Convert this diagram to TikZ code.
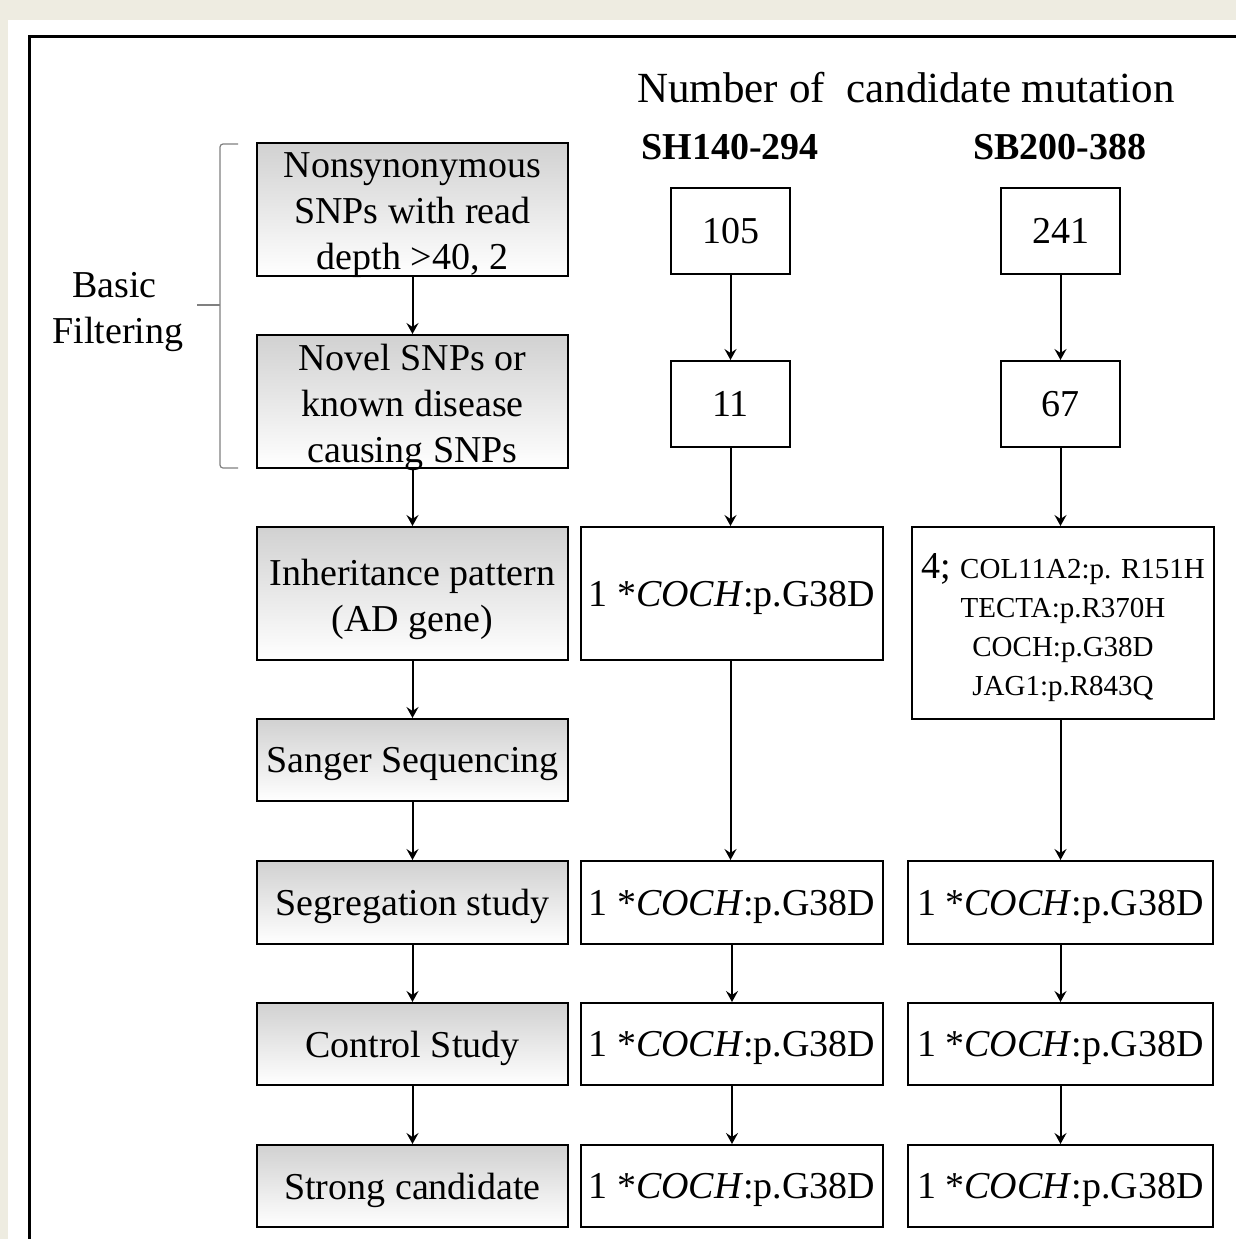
\documentclass[tikz,border=0pt]{standalone}
\usepackage{fontspec}
\setmainfont{Liberation Serif}
\usetikzlibrary{arrows.meta}
\definecolor{bgtan}{HTML}{EEECE1}
\newcommand{\bodyfont}{\fontsize{38}{46}\selectfont}
\newcommand{\headfont}{\fontsize{43}{50}\selectfont}
\newcommand{\smallfont}{\fontsize{29}{39}\selectfont}
\begin{document}
\begin{tikzpicture}[x=1pt,y=-1pt,
  base/.style={draw=black,line width=2pt,inner sep=0pt,align=center,font=\bodyfont,text=black,text depth=0pt},
  boxtext/.style={align=center,font=\bodyfont,text=black,inner sep=0pt,yshift=-6pt},
  graybox/.style={base,top color=black!18,bottom color=white,minimum width=311pt},
  whitebox/.style={base,fill=white},
  numbox/.style={whitebox,minimum width=119pt,minimum height=86pt},
  resbox/.style={whitebox,minimum width=302pt},
  conn/.style={line width=2pt,-{Stealth[length=11pt,width=12pt,inset=4pt]}},
  brace/.style={draw=black!50,line width=1.2pt}]
\useasboundingbox (0,0) rectangle (1236,1239);
\fill[bgtan] (0,0) rectangle (1236,1239);
\fill[white] (8,20) rectangle (1236,1239);
\draw[line width=3pt] (29,1239) -- (29,37) -- (1236,37);

% headers
\node[font=\headfont] (hdr) at (906,88) {Number of\ \ candidate mutation};
\node[font=\bodyfont\bfseries] (hsh) at (730,147) {SH140-294};
\node[font=\bodyfont\bfseries] (hsb) at (1060,147) {SB200-388};

% left column
\node[graybox,minimum height=133pt,label={[boxtext]center:{Nonsynonymous\\SNPs with read\\depth >40, 2}}] (b1) at (412.5,209.5) {};
\node[graybox,minimum height=133pt,label={[boxtext]center:{Novel SNPs or\\known disease\\causing SNPs}}] (b2) at (412.5,401.5) {};
\node[graybox,minimum height=133pt,label={[boxtext]center:{Inheritance pattern\\(AD gene)}}] (b3) at (412.5,593.5) {};
\node[graybox,minimum height=82pt] (b4) at (412.5,760) {Sanger Sequencing};
\node[graybox,minimum height=83pt] (b5) at (412.5,902.5) {Segregation study};
\node[graybox,minimum height=82pt] (b6) at (412.5,1044) {Control Study};
\node[graybox,minimum height=82pt] (b7) at (412.5,1186) {Strong candidate};

% middle column
\node[numbox] (m1) at (730.5,231) {105};
\node[numbox] (m2) at (730.5,404) {11};
\node[resbox,minimum height=133pt] (m3) at (732,593.5) {1 *\textit{COCH}:p.G38D};
\node[resbox,minimum height=83pt] (m5) at (732,902.5) {1 *\textit{COCH}:p.G38D};
\node[resbox,minimum height=82pt] (m6) at (732,1044) {1 *\textit{COCH}:p.G38D};
\node[resbox,minimum height=82pt] (m7) at (732,1186) {1 *\textit{COCH}:p.G38D};

% right column
\node[numbox] (r1) at (1060.5,231) {241};
\node[numbox] (r2) at (1060.5,404) {67};
\node[resbox,minimum height=192pt,label={[boxtext,yshift=1pt]center:{4; {\smallfont COL11A2:p. R151H}\\[-7pt]{\smallfont TECTA:p.R370H}\\[-7pt]{\smallfont COCH:p.G38D}\\[-7pt]{\smallfont JAG1:p.R843Q}}}] (r3) at (1063,623) {};
\node[resbox,minimum width=305pt,minimum height=83pt] (r5) at (1060.5,902.5) {1 *\textit{COCH}:p.G38D};
\node[resbox,minimum width=305pt,minimum height=82pt] (r6) at (1060.5,1044) {1 *\textit{COCH}:p.G38D};
\node[resbox,minimum width=305pt,minimum height=82pt] (r7) at (1060.5,1186) {1 *\textit{COCH}:p.G38D};

% left arrows
\draw[conn] (b1) -- (b2);
\draw[conn] (b2) -- (b3);
\draw[conn] (b3) -- (b4);
\draw[conn] (b4) -- (b5);
\draw[conn] (b5) -- (b6);
\draw[conn] (b6) -- (b7);

% middle arrows
\draw[conn] (m1) -- (m2);
\draw[conn] (m2.south) -- (m2.south |- m3.north);
\draw[conn] (m3.south -| m2.south) -- (m2.south |- m5.north);
\draw[conn] (m5) -- (m6);
\draw[conn] (m6) -- (m7);

% right arrows
\draw[conn] (r1) -- (r2);
\draw[conn] (r2.south) -- (r2.south |- r3.north);
\draw[conn] (r3.south -| r2.south) -- (r2.south |- r5.north);
\draw[conn] (r5) -- (r6);
\draw[conn] (r6) -- (r7);

% basic filtering bracket
\draw[brace,rounded corners=3pt] (238,144) -- (220,144) -- (220,468) -- (238,468);
\draw[brace] (197,305) -- (220,305);
\node[font=\bodyfont,align=center] (bf) at (118,312) {Basic\hspace*{7pt}\\Filtering};
\end{tikzpicture}
\end{document}
